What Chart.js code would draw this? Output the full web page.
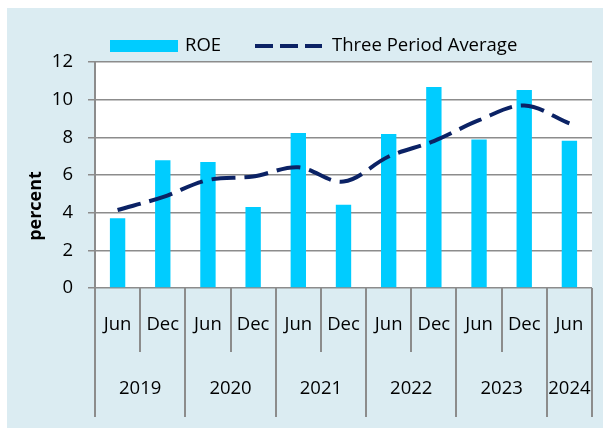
<!DOCTYPE html>
<html>
<head>
<meta charset="utf-8">
<script src="https://cdn.jsdelivr.net/npm/chart.js@4/dist/chart.umd.min.js"></script>
<style>
  body { margin: 0; background: #fff; }
  canvas { display: block; }
</style>
</head>
<body>
<canvas id="roe" width="603" height="429"></canvas>
<script>
// half-year periods and the year groups under them
var periods = ['Jun', 'Dec', 'Jun', 'Dec', 'Jun', 'Dec', 'Jun', 'Dec', 'Jun', 'Dec', 'Jun'];
var years = ['2019', '2020', '2021', '2022', '2023', '2024'];
var yearSpans = [2, 2, 2, 2, 2, 1];

var roe = [3.7, 6.78, 6.69, 4.3, 8.23, 4.42, 8.18, 10.67, 7.88, 10.51, 7.82];
var threePeriodAvg = [4.14, 4.83, 5.73, 5.92, 6.41, 5.65, 6.98, 7.8, 8.91, 9.69, 8.74];

var yTicks = [0, 2, 4, 6, 8, 10, 12];

var FONT = "'Open Sans', 'Liberation Sans', sans-serif";
var SIZE = 18.5;
var GRID = '#8c8c8c';
var BAR = '#00ccff';
var LINE = '#0b2265';

var decor = {
  id: 'decor',
  beforeDraw: function(chart) {
    var ctx = chart.ctx, a = chart.chartArea;
    ctx.save();
    ctx.fillStyle = '#fff';
    ctx.fillRect(0, 0, chart.width, chart.height);
    ctx.fillStyle = '#dbecf2';
    ctx.fillRect(7, 8, chart.width - 7, 420);
    ctx.fillStyle = '#fff';
    ctx.fillRect(a.left, a.top, a.right - a.left, a.bottom - a.top);
    ctx.restore();
  },
  afterDraw: function(chart) {
    var ctx = chart.ctx, x = chart.scales.x, n = periods.length;
    var step = (x.right - x.left) / n;
    var base = chart.chartArea.bottom;

    // boundaries where a year starts
    var yearEdges = [0];
    for (var i = 0; i < yearSpans.length; i++) yearEdges.push(yearEdges[i] + yearSpans[i]);

    ctx.save();
    ctx.strokeStyle = GRID;
    ctx.lineWidth = 2;
    for (var b = 0; b <= n; b++) {
      var px = Math.round(x.left + b * step);
      var long = yearEdges.indexOf(b) >= 0;
      ctx.beginPath();
      ctx.moveTo(px, base);
      ctx.lineTo(px, long ? base + 129 : base + 64);
      ctx.stroke();
    }

    ctx.fillStyle = '#000';
    ctx.font = SIZE + 'px ' + FONT;
    ctx.textAlign = 'center';
    ctx.textBaseline = 'middle';
    for (var j = 0; j < years.length; j++) {
      var cx = x.left + (yearEdges[j] + yearSpans[j] / 2) * step;
      ctx.fillText(years[j], cx, base + 101);
    }

    // legend
    var ly = 46;
    var ds = chart.data.datasets;
    ctx.textAlign = 'left';
    ctx.fillStyle = BAR;
    ctx.fillRect(110, ly - 6, 68, 12);
    ctx.fillStyle = '#000';
    ctx.fillText(ds[0].label, 185, ly);

    ctx.strokeStyle = LINE;
    ctx.lineWidth = 4;
    ctx.setLineDash([18, 7]);
    ctx.beginPath();
    ctx.moveTo(255, ly);
    ctx.lineTo(322, ly);
    ctx.stroke();
    ctx.setLineDash([]);
    ctx.fillText(ds[1].label, 332, ly);

    // y axis title
    ctx.textAlign = 'center';
    ctx.translate(36, 206);
    ctx.rotate(-Math.PI / 2);
    ctx.font = 'bold 18px ' + FONT;
    ctx.fillText('percent', 0, 0);
    ctx.restore();
  }
};

new Chart(document.getElementById('roe').getContext('2d'), {
  type: 'bar',
  data: {
    labels: periods,
    datasets: [
      {
        label: 'ROE',
        data: roe,
        backgroundColor: BAR,
        borderWidth: 0,
        categoryPercentage: 1,
        barPercentage: 0.34,
        order: 2
      },
      {
        type: 'line',
        label: 'Three Period Average',
        data: threePeriodAvg,
        borderColor: LINE,
        backgroundColor: LINE,
        borderWidth: 4,
        borderDash: [24, 9],
        tension: 0.35,
        pointRadius: 0,
        fill: false,
        order: 1
      }
    ]
  },
  options: {
    responsive: false,
    animation: false,
    layout: { padding: { top: 62, right: 11, left: 0, bottom: 0 } },
    plugins: {
      tooltip: { enabled: false },
      legend: { display: false }
    },
    scales: {
      x: {
        grid: { display: false },
        border: { display: false },
        ticks: {
          color: '#000',
          padding: 18,
          maxRotation: 0,
          font: { family: FONT, size: SIZE }
        },
        afterFit: function(scale) { scale.height = 141; }
      },
      y: {
        min: 0,
        max: 12,
        afterBuildTicks: function(scale) {
          scale.ticks = yTicks.map(function(v) { return { value: v }; });
        },
        grid: { color: GRID, lineWidth: 1.5, tickLength: 7 },
        border: { color: GRID, width: 2 },
        ticks: {
          color: '#000',
          padding: 15,
          font: { family: FONT, size: SIZE }
        },
        afterFit: function(scale) { scale.width = 95; }
      }
    }
  },
  plugins: [decor]
});
</script>
</body>
</html>
